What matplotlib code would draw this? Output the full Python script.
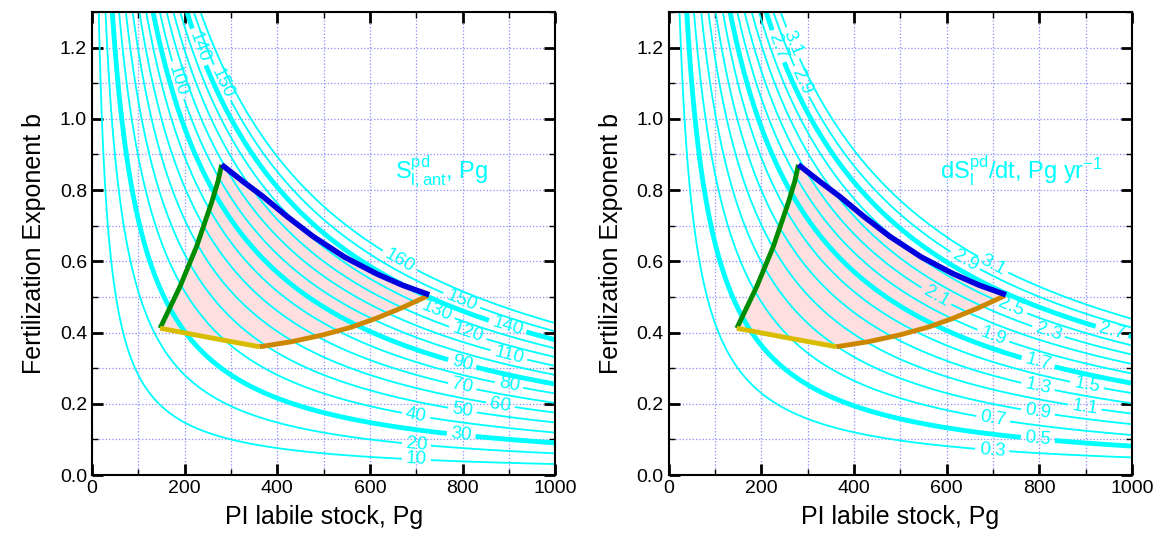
import numpy as np
import matplotlib
matplotlib.use("Agg")
import matplotlib.pyplot as plt
from matplotlib.ticker import MultipleLocator

plt.rcParams['font.family'] = ['Liberation Sans', 'DejaVu Sans']
plt.rcParams['mathtext.fontset'] = 'custom'
plt.rcParams['mathtext.rm'] = 'Liberation Sans'
plt.rcParams['mathtext.it'] = 'Liberation Sans'

# contour levels
stock_levels = [10, 20, 30, 40, 50, 60, 70, 80, 90, 100, 110, 120, 130, 140, 150, 160]
stock_bold = [30, 90, 140]
rate_levels = [0.3, 0.5, 0.7, 0.9, 1.1, 1.3, 1.5, 1.7, 1.9, 2.1, 2.3, 2.5, 2.7, 2.9, 3.1]
rate_bold = [0.5, 1.7, 2.7]

# field parameters (CO2 ratio and growth)
amp_stock, k_stock = 0.46, 0.70
gamma_rate, lnr_rate = 0.00597, 0.387

# constraint region boundaries (PI stock, exponent b)
green_S = [147, 190, 226, 258, 272, 280]
green_b = [0.412, 0.529, 0.642, 0.764, 0.824, 0.871]
blue_S = [280, 330, 369, 420, 477, 545, 614, 670, 728]
blue_b = [0.871, 0.820, 0.782, 0.727, 0.670, 0.612, 0.565, 0.533, 0.506]
yellow_S = [147, 261, 362]
yellow_b = [0.412, 0.384, 0.360]
orange_S = [362, 430, 498, 560, 614, 670, 725]
orange_b = [0.360, 0.374, 0.393, 0.415, 0.440, 0.470, 0.503]

# label positions
stock_lab_pos = [(700, 0.037), (700, 0.08), (797, 0.112), (700, 0.169), (800, 0.183),
                 (883, 0.206), (800, 0.253), (901, 0.258), (800, 0.318), (190, 1.11),
                 (901, 0.342), (811, 0.398), (743, 0.459), (897, 0.417), (236, 1.204),
                 (797, 0.487), (287, 1.105), (664, 0.60)]
rate_lab_pos = [(698, 0.0655), (797, 0.104), (700, 0.155), (797, 0.178), (898, 0.188),
                (797, 0.248), (903, 0.253), (797, 0.315), (700, 0.389), (579, 0.506),
                (819, 0.399), (737, 0.464), (959, 0.413), (229, 1.20), (639, 0.60),
                (287, 1.105), (698, 0.585), (268, 1.213)]

S = np.linspace(1, 1000, 400)
b = np.linspace(0, 1.3, 400)
SS, BB = np.meshgrid(S, b)
stock_field = SS * amp_stock * (np.exp(k_stock * BB) - 1)
rate_field = SS * gamma_rate * BB * np.exp(lnr_rate * BB)

fig, axes = plt.subplots(1, 2, figsize=(11.61, 5.42), dpi=100)
fig.subplots_adjust(left=0.0792, right=0.975, bottom=0.1236, top=0.978, wspace=0.245)

panels = [
    (axes[0], stock_field, stock_levels, stock_bold, stock_lab_pos, '%d',
     r'$\mathregular{S_{l,ant}^{pd}}$, Pg', 655),
    (axes[1], rate_field, rate_levels, rate_bold, rate_lab_pos, '%.1f',
     r'$\mathregular{dS_{l}^{pd}}$/dt, Pg yr$^{\mathregular{-1}}$', 585),
]

for ax, field, levels, bold, lab_pos, fmt, note, note_x in panels:
    poly_S = green_S + blue_S + orange_S[::-1] + yellow_S[::-1]
    poly_b = green_b + blue_b + orange_b[::-1] + yellow_b[::-1]
    ax.fill(poly_S, poly_b, color='#ffdfdf', zorder=1, lw=0)

    widths = [3.5 if any(abs(lv - q) < 1e-6 for q in bold) else 1.3 for lv in levels]
    cs = ax.contour(SS, BB, field, levels=levels, colors='#00ffff', linewidths=widths, zorder=2)
    ax.clabel(cs, fmt=fmt, fontsize=13.5, inline=True, inline_spacing=4, manual=lab_pos)

    ax.plot(green_S, green_b, color='#008c00', lw=3.5, zorder=4, solid_capstyle='butt')
    ax.plot(yellow_S, yellow_b, color='#d8bc00', lw=3.5, zorder=4, solid_capstyle='butt')
    ax.plot(orange_S, orange_b, color='#cc8600', lw=3.5, zorder=4, solid_capstyle='butt')
    ax.plot(blue_S, blue_b, color='#0000dd', lw=4, zorder=4, solid_capstyle='butt')

    ax.text(note_x, 0.83, note, color='#00ffff', fontsize=17, zorder=5)

    ax.set_xlim(0, 1000)
    ax.set_ylim(0, 1.3)
    ax.xaxis.set_major_locator(MultipleLocator(200))
    ax.xaxis.set_minor_locator(MultipleLocator(100))
    ax.yaxis.set_major_locator(MultipleLocator(0.2))
    ax.yaxis.set_minor_locator(MultipleLocator(0.1))
    ax.yaxis.set_major_formatter(plt.FormatStrFormatter('%.1f'))
    ax.grid(which='both', color='#8c8cff', linestyle=':', lw=0.9, zorder=0)
    ax.set_axisbelow(True)
    ax.tick_params(which='both', direction='in', top=True, right=True, labelsize=14)
    ax.tick_params(which='major', length=8, width=2)
    ax.tick_params(which='minor', length=4, width=1)
    for sp in ax.spines.values():
        sp.set_linewidth(1.5)
    ax.set_xlabel('PI labile stock, Pg', fontsize=18, labelpad=6)
    ax.set_ylabel('Fertilization Exponent b', fontsize=18, labelpad=10)

plt.savefig('out.png', dpi=100)
